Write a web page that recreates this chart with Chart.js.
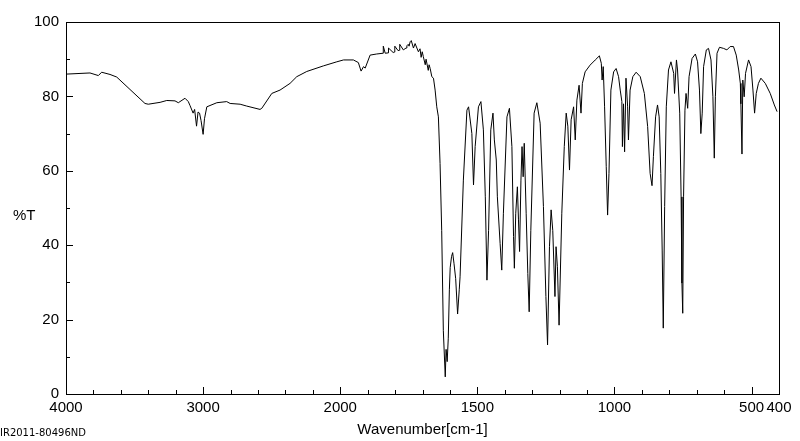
<!DOCTYPE html>
<html>
<head>
<meta charset="utf-8">
<script src="https://cdn.jsdelivr.net/npm/chart.js@4.4.1/dist/chart.umd.min.js"></script>
<style>
  body { margin: 0; background: #fff; }
  #wrap { width: 800px; height: 441px; }
</style>
</head>
<body>
<div id="wrap"><canvas id="irChart" width="800" height="441"></canvas></div>
<script>
// IR spectrum (cm-1 / %T)
const wavenumbers = [
  3995, 3825, 3764, 3740, 3679, 3630, 3424, 3400, 3314, 3265, 3205, 3181, 3132, 3108,
  3095, 3073, 3062, 3048, 3037, 3026, 3015, 3000, 2990, 2973, 2900, 2828, 2803, 2730,
  2682, 2585, 2572, 2499, 2439, 2366, 2317, 2244, 2123, 2025,
  1988, 1952, 1934, 1924, 1915, 1909, 1891, 1867, 1844, 1843, 1836, 1825, 1824, 1807,
  1803, 1801, 1789, 1785, 1783, 1770, 1760, 1757, 1752, 1749, 1745, 1741, 1733, 1727,
  1715, 1709, 1705, 1701, 1697, 1690, 1687, 1679, 1676, 1672, 1666, 1660, 1654, 1648,
  1642, 1636, 1630, 1624, 1617, 1614, 1610, 1606, 1602, 1599, 1594, 1590, 1585, 1579,
  1572, 1566, 1563, 1551, 1538, 1532, 1520, 1514, 1508, 1496, 1487, 1478, 1471, 1465,
  1459, 1451, 1443, 1438, 1431, 1427, 1417, 1411, 1405, 1392, 1383, 1374, 1368, 1365,
  1360, 1354, 1350, 1346, 1341, 1337, 1333, 1329, 1322, 1316, 1311, 1305, 1293, 1283,
  1271, 1259, 1250, 1244, 1237, 1231, 1225, 1217, 1213, 1208, 1202, 1192, 1183, 1176,
  1170, 1164, 1158, 1149, 1143, 1137, 1129, 1122, 1117, 1107, 1089, 1070, 1055, 1048,
  1045, 1041, 1036, 1030, 1025, 1020, 1013, 1003, 994, 985, 979, 973, 971, 967,
  963, 958, 952, 949, 943, 933, 921, 906, 891, 879, 870, 863, 858, 850,
  843, 837, 831, 826, 822, 817, 811, 803, 794, 784, 781, 774, 770, 762,
  757, 754, 751, 748, 743, 739, 733, 728, 717, 705, 697, 690, 685, 680,
  675, 665, 657, 648, 641, 636, 632, 626, 617, 602, 590, 578, 566, 556,
  547, 541, 539, 535, 532, 527, 522, 511, 502, 495, 489, 483, 475, 466,
  450, 432, 417, 407
];
const transmittance = [
  86.0, 86.3, 85.6, 86.5, 85.9, 85.2, 78.1, 77.9, 78.4, 78.9, 78.8, 78.3, 79.5, 78.6,
  77.5, 75.5, 76.5, 72.0, 75.8, 75.5, 73.5, 69.8, 74.0, 77.2, 78.3, 78.6, 78.1, 77.9,
  77.4, 76.5, 76.8, 80.8, 81.7, 83.5, 85.3, 86.7, 88.2, 89.3,
  89.8, 89.8, 89.1, 86.8, 88.0, 87.6, 91.1, 91.4, 91.6, 93.5, 91.6, 91.7, 93.0, 91.8,
  91.9, 93.5, 92.3, 92.4, 94.0, 92.5, 93.0, 93.6, 94.0, 93.5, 94.7, 95.0, 93.0, 94.2,
  92.0, 92.8, 90.5, 92.0, 90.7, 88.5, 90.0, 87.0, 88.5, 87.5, 85.3, 84.9, 81.7, 77.2,
  74.5, 62.0, 44.0, 17.0, 4.6, 12.0, 8.7, 15.0, 28.0, 34.0, 37.0, 38.0, 35.0, 31.0,
  21.5, 28.0, 31.5, 57.5, 76.3, 77.2, 70.0, 56.2, 66.5, 77.2, 78.6, 71.0, 53.0, 30.6,
  44.0, 71.0, 75.5, 68.3, 62.9, 53.0, 40.5, 33.3, 48.6, 74.5, 76.8, 66.5, 42.3, 33.8,
  48.6, 55.7, 46.8, 38.3, 57.5, 66.5, 58.4, 67.4, 48.6, 32.4, 22.1, 44.0, 75.5, 78.3,
  72.8, 50.4, 26.2, 13.2, 39.6, 49.5, 44.0, 26.2, 39.6, 34.2, 18.5, 48.6, 66.5, 75.5,
  72.0, 60.2, 73.7, 77.2, 68.3, 79.0, 83.0, 75.5, 83.5, 86.6, 88.4, 89.8, 90.9, 88.9,
  84.4, 88.0, 77.2, 61.1, 48.1, 59.3, 81.7, 86.6, 87.5, 85.3, 81.7, 78.6, 66.5, 78.0,
  65.1, 84.9, 77.2, 68.3, 81.7, 85.3, 86.5, 85.3, 80.8, 71.9, 59.3, 56.0, 63.8, 74.5,
  77.7, 74.5, 59.3, 38.7, 17.7, 50.4, 77.2, 87.1, 89.3, 86.2, 80.8, 89.8, 87.1, 75.5,
  53.0, 29.8, 21.7, 53.0, 76.3, 80.8, 76.8, 85.3, 90.2, 91.4, 89.3, 81.7, 70.0, 75.5,
  88.0, 92.5, 92.9, 89.8, 79.9, 63.4, 79.9, 91.6, 93.2, 92.9, 92.5, 93.4, 93.4, 91.1,
  87.1, 83.5, 78.0, 64.5, 84.4, 79.9, 86.2, 89.8, 88.0, 81.7, 75.5, 80.8, 83.5, 84.9,
  83.5, 80.8, 77.7, 75.9
];
const xTickLabels = [4000, 3000, 2000, 1500, 1000, 500, 400];
const yTickLabels = [0, 20, 40, 60, 80, 100];

// the scale is doubled below 2000 cm-1, so map wavenumber onto a linear axis
function toAxis(wn) {
  return wn >= 2000 ? 4000 - wn : 2000 + (2000 - wn) * 2;
}
const axisMax = toAxis(400);
const labelFont = { family: "'Liberation Sans', Arial, sans-serif", size: 15 };

const points = wavenumbers.map((wn, i) => ({ x: toAxis(wn), y: transmittance[i] }));

function xLabelFor(value) {
  const hit = xTickLabels.find((wn) => toAxis(wn) === value);
  return hit === undefined ? "" : String(hit);
}

// inward tick marks, box, and the loose texts
const frame = {
  id: "frame",
  afterDraw(chart) {
    const ctx = chart.ctx;
    const area = chart.chartArea;
    const xs = chart.scales.x;
    const ys = chart.scales.y;
    ctx.save();
    ctx.strokeStyle = "#000";
    ctx.lineWidth = 1;
    ctx.beginPath();
    xs.ticks.forEach((t) => {
      const px = Math.round(xs.getPixelForValue(t.value)) + 0.5;
      const len = xLabelFor(t.value) ? 7 : 4;
      ctx.moveTo(px, area.bottom);
      ctx.lineTo(px, area.bottom - len);
    });
    ys.ticks.forEach((t) => {
      const py = Math.round(ys.getPixelForValue(t.value)) + 0.5;
      const len = yTickLabels.includes(t.value) ? 7 : 4;
      ctx.moveTo(area.left, py);
      ctx.lineTo(area.left + len, py);
    });
    ctx.stroke();
    ctx.strokeRect(Math.round(area.left) + 0.5, Math.round(area.top) + 0.5,
      Math.round(area.right - area.left), Math.round(area.bottom - area.top));

    ctx.fillStyle = "#000";
    ctx.font = labelFont.size + "px " + labelFont.family;
    ctx.textAlign = "left";
    ctx.textBaseline = "middle";
    ctx.fillText("%T", 13, 216);
    ctx.font = "10px 'DejaVu Sans', sans-serif";
    ctx.fillText("IR2011-80496ND", 0, 433);
    ctx.restore();
  },
};

const irChart = new Chart(document.getElementById("irChart").getContext("2d"), {
  type: "scatter",
  data: {
    datasets: [
      {
        data: points,
        showLine: true,
        borderColor: "#000",
        borderWidth: 1,
        pointRadius: 0,
        tension: 0,
      },
    ],
  },
  options: {
    responsive: false,
    animation: false,
    layout: { padding: { top: 22, right: 21, left: 0, bottom: 0 } },
    plugins: { legend: { display: false }, tooltip: { enabled: false } },
    scales: {
      x: {
        type: "linear",
        min: 0,
        max: axisMax,
        afterBuildTicks: (scale) => {
          const ticks = [];
          for (let v = 0; v <= axisMax; v += 200) ticks.push({ value: v });
          scale.ticks = ticks;
        },
        afterFit: (scale) => { scale.height = 47; },
        grid: { display: true, drawOnChartArea: false, drawTicks: false },
        border: { display: true, color: "#000", width: 1 },
        ticks: {
          autoSkip: false,
          maxRotation: 0,
          padding: 5,
          color: "#000",
          font: labelFont,
          callback: (value) => xLabelFor(value),
        },
        title: {
          display: true,
          text: "Wavenumber[cm-1]",
          color: "#000",
          font: labelFont,
          padding: { top: 0, bottom: 2 },
        },
      },
      y: {
        min: 0,
        max: 100,
        afterBuildTicks: (scale) => {
          const ticks = [];
          for (let v = 0; v <= 100; v += 10) ticks.push({ value: v });
          scale.ticks = ticks;
        },
        afterFit: (scale) => { scale.width = 66; },
        grid: { display: true, drawOnChartArea: false, drawTicks: false },
        border: { display: true, color: "#000", width: 1 },
        ticks: {
          autoSkip: false,
          padding: 7,
          color: "#000",
          font: labelFont,
          callback: (value) => (yTickLabels.includes(value) ? String(value) : ""),
        },
      },
    },
  },
  plugins: [frame],
});
</script>
</body>
</html>
